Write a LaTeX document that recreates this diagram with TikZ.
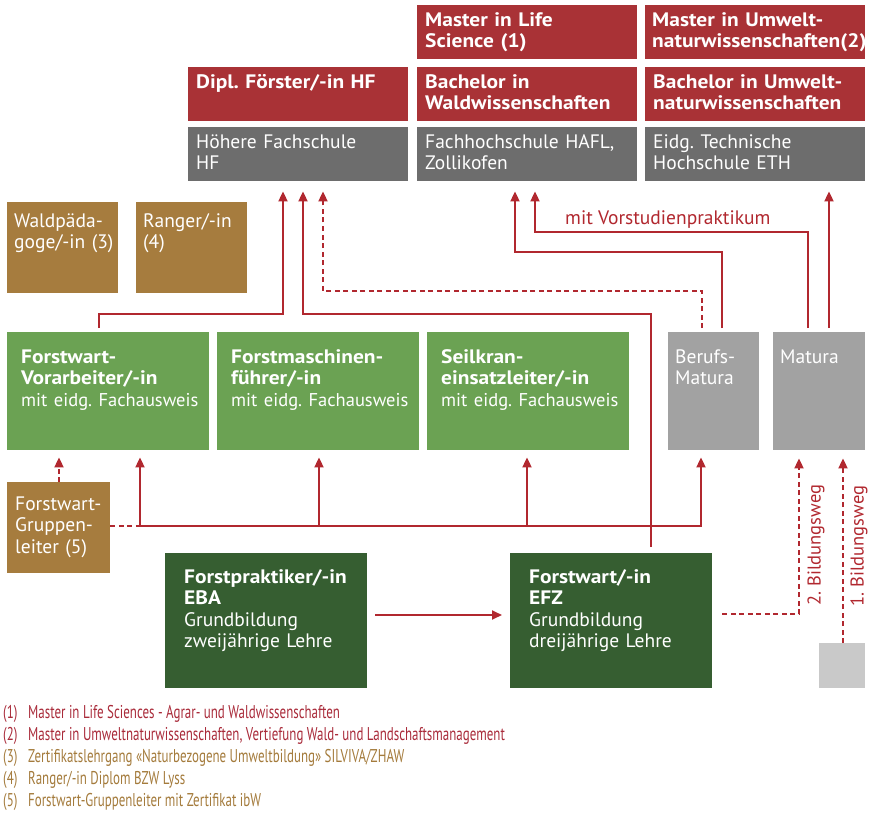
\documentclass[tikz,border=0pt]{standalone}
\usepackage{fontspec}
\setmainfont{PT Sans}[BoldFeatures={FakeStretch=1.1}]
\newfontfamily\legendfont[FakeStretch=0.7]{PT Sans}
\usepackage{xcolor}
\usetikzlibrary{arrows.meta,positioning}

\definecolor{uniRed}{HTML}{A93236}
\definecolor{schoolGray}{HTML}{6D6D6D}
\definecolor{matGray}{HTML}{A2A2A2}
\definecolor{startGray}{HTML}{C9C9C9}
\definecolor{certBrown}{HTML}{A67C3E}
\definecolor{lightGreen}{HTML}{6BA253}
\definecolor{darkGreen}{HTML}{365E31}
\definecolor{lineRed}{HTML}{B1282F}
\definecolor{noteRed}{HTML}{A92B3A}
\definecolor{noteBrown}{HTML}{A47B3C}

\begin{document}
\frenchspacing
\begin{tikzpicture}[
  x=1pt, y=-1pt,
  box/.style={anchor=north west, inner ysep=0pt, align=left, text=white,
    font=\fontsize{19.5}{21.5}\selectfont},
  degree/.style={box, fill=uniRed, inner xsep=8pt, text width=204pt,
    text height=21pt, text depth=33pt},
  school/.style={degree, fill=schoolGray},
  cert/.style={box, fill=certBrown, inner xsep=7pt, text width=97pt,
    text height=25pt, text depth=66pt},
  advanced/.style={box, fill=lightGreen, inner xsep=14pt, text width=174pt,
    text height=31pt, text depth=87pt},
  matbox/.style={box, fill=matGray, inner xsep=7pt, text width=77pt,
    text height=31pt, text depth=87pt},
  basic/.style={box, fill=darkGreen, inner xsep=19pt, text width=164pt,
    text height=30pt, text depth=105pt},
  conn/.style={draw=lineRed, line width=1.8pt},
  arr/.style={conn, -{Triangle[length=10pt,width=9pt]}},
  dsh/.style={dash pattern=on 5pt off 3.5pt},
  lbl/.style={text=lineRed, inner sep=0pt},
  note/.style={anchor=base west, inner sep=0pt,
    font=\legendfont\fontsize{18.5}{22}\selectfont}
]
  \useasboundingbox (0,0) rectangle (870,813);

  % Hochschulen
  \node[degree] (mls) at (417,5) {\textbf{Master in Life}\\\textbf{Science (1)}};
  \node[degree, inner xsep=7pt, text width=206pt] (mun) at (645,5) {\textbf{Master~in~Umwelt-}\\\textbf{naturwissenschaften(2)}};
  \node[degree] (dipl) at (188,67) {\textbf{Dipl.~Förster/-in~HF}};
  \node[degree] (bwald) at (417,67) {\textbf{Bachelor in}\\\textbf{Waldwissenschaften}};
  \node[degree] (bumw) at (645,67) {\textbf{Bachelor~in~Umwelt-}\\\textbf{naturwissenschaften}};
  \node[school] (hf) at (188,127) {Höhere Fachschule\\HF};
  \node[school] (fh) at (417,127) {Fachhochschule~HAFL,\\Zollikofen};
  \node[school] (eth) at (645,127) {Eidg.~Technische\\Hochschule~ETH};

  % Zertifikate
  \node[cert] (wpaed) at (7,202) {Waldpäda-\\\mbox{goge/-in (3)}};
  \node[cert] (ranger) at (136,202) {\mbox{Ranger/-in}\\(4)};
  \node[cert, inner xsep=8pt, text width=87pt, text height=28pt, text depth=63pt] (gruppen) at (7,482) {Forstwart-\\Gruppen-\\leiter~(5)};

  % Berufsprüfungen
  \node[advanced] (vorarb) at (7,332) {\textbf{Forstwart-}\\\textbf{Vorarbeiter/-in}\\{\fontsize{18.5}{21.5}\selectfont mit~eidg.~Fachausweis}};
  \node[advanced] (fmasch) at (217,332) {\textbf{Forstmaschinen-}\\\textbf{führer/-in}\\{\fontsize{18.5}{21.5}\selectfont mit~eidg.~Fachausweis}};
  \node[advanced] (seil) at (427,332) {\textbf{Seilkran-}\\\textbf{einsatzleiter/-in}\\{\fontsize{18.5}{21.5}\selectfont mit~eidg.~Fachausweis}};
  \node[matbox] (bm) at (668,332) {Berufs-\\Matura};
  \node[matbox, text width=78pt] (mat) at (773,332) {Matura};

  % Grundbildung
  \node[basic] (eba) at (165,553) {\textbf{Forstpraktiker/-in}\\\textbf{EBA}\\Grundbildung\\zweijährige~Lehre};
  \node[basic] (efz) at (510,553) {\textbf{Forstwart/-in}\\\textbf{EFZ}\\Grundbildung\\dreijährige~Lehre};
  \node[box, fill=startGray, inner sep=0pt, minimum width=46pt, minimum height=45pt] (start) at (819,643) {};

  % Wege nach oben
  \draw[arr, shorten <=4pt, shorten >=10pt] (vorarb.north -| 99,0) |- (283,314) -- (hf.south -| 283,0);
  \draw[arr, shorten <=6pt, shorten >=10pt] (efz.north -| 651,0) |- (303,314) -- (hf.south -| 303,0);
  \draw[arr, dsh, shorten <=4pt, shorten >=10pt] (bm.north -| 702,0) |- (323,291) -- (hf.south -| 323,0);
  \draw[arr, shorten <=4pt, shorten >=10pt] (bm.north -| 722,0) |- (515,252) -- (fh.south -| 515,0);
  \draw[arr, shorten <=4pt, shorten >=10pt] (mat.north -| 808,0) |- (535,232) -- (fh.south -| 535,0);
  \draw[arr, shorten <=4pt, shorten >=10pt] (mat.north -| 829,0) -- (eth.south -| 829,0);
  \node[lbl, anchor=base west, font=\fontsize{19.5}{21.5}\selectfont] (vsp) at (565,225) {mit Vorstudienpraktikum};

  % Verteiler ab EFZ
  \coordinate (hub) at (651,526);
  \draw[arr, shorten >=7pt] (hub) -| (vorarb.south -| 140,0);
  \draw[arr, shorten >=7pt] (hub) -| (fmasch.south -| 319,0);
  \draw[arr, shorten >=7pt] (hub) -| (seil.south -| 527,0);
  \draw[arr, shorten >=7pt] (hub) -| (bm.south -| 701,0);
  \draw[conn, dsh] (gruppen.east |- hub) -- (140,526);
  \draw[arr, dsh, shorten >=7pt] (gruppen.north -| 59,0) -- (vorarb.south -| 59,0);
  \draw[arr, shorten <=8pt, shorten >=8pt] (eba.east |- 0,615) -- (efz.west |- 0,615);

  % Bildungswege zur Matura
  \draw[arr, dsh, shorten <=10pt, shorten >=8pt] (efz.east |- 0,614) -| (mat.south -| 799,0);
  \draw[arr, dsh, shorten >=8pt] (start.north -| 843,0) -- (mat.south -| 843,0);
  \node[lbl, rotate=90, font=\fontsize{18.5}{20}\selectfont] (bw2) at (816,545) {2. Bildungsweg};
  \node[lbl, rotate=90, font=\fontsize{18.5}{20}\selectfont] (bw1) at (859,546) {1. Bildungsweg};

  % Fussnoten
  \node[note, text=noteRed] (n1) at (3,718) {(1)};
  \node[note, text=noteRed] (t1) at (28,718) {Master in Life Sciences - Agrar- und Waldwissenschaften};
  \node[note, text=noteRed] (n2) at (3,740) {(2)};
  \node[note, text=noteRed] (t2) at (28,740) {Master in Umweltnaturwissenschaften, Vertiefung Wald- und Landschaftsmanagement};
  \node[note, text=noteBrown] (n3) at (3,762) {(3)};
  \node[note, text=noteBrown] (t3) at (28,762) {Zertifikatslehrgang «Naturbezogene Umweltbildung» SILVIVA/ZHAW};
  \node[note, text=noteBrown] (n4) at (3,784) {(4)};
  \node[note, text=noteBrown] (t4) at (28,784) {Ranger/-in Diplom BZW Lyss};
  \node[note, text=noteBrown] (n5) at (3,806) {(5)};
  \node[note, text=noteBrown] (t5) at (28,806) {Forstwart-Gruppenleiter mit Zertifikat ibW};
\end{tikzpicture}
\end{document}
